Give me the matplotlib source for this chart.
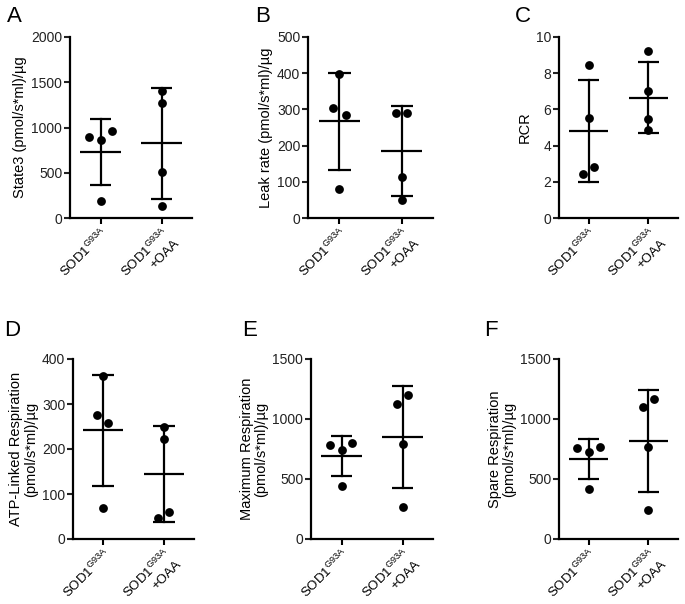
import numpy as np
import matplotlib
matplotlib.use('Agg')
import matplotlib.pyplot as plt

# plotstyle
plt.rcParams['font.family'] = ['Liberation Sans', 'DejaVu Sans']
plt.rcParams['mathtext.fontset'] = 'custom'
plt.rcParams['mathtext.rm'] = 'Liberation Sans'
FS = 10

# data
groups = [r'SOD1$^{\mathregular{G93A}}$', 'SOD1$^{\\mathregular{G93A}}$\n+OAA']

state3_sod = [899, 862, 965, 191]
state3_oaa = [1405, 1266, 503, 128]
leak_sod = [399, 305, 284, 80]
leak_oaa = [291, 291, 112, 50]
rcr_sod = [8.48, 5.5, 2.84, 2.42]
rcr_oaa = [9.23, 7.03, 5.47, 4.86]
atp_sod = [363, 275, 258, 69]
atp_oaa = [250, 223, 59, 46]
maxr_sod = [786, 800, 744, 444]
maxr_oaa = [1203, 1128, 794, 267]
spare_sod = [761, 767, 722, 417]
spare_oaa = [1169, 1103, 767, 239]

# horizontal scatter of the dots (column-scatter style)
jit_sod_A = [-0.19, 0.0, 0.19, 0.0]
jit_oaa_A = [0.0, 0.0, 0.0, 0.0]
jit_sod_B = [0.0, -0.1, 0.1, 0.0]
jit_oaa_B = [-0.09, 0.09, 0.0, 0.0]
jit_sod_C = [0.0, 0.0, 0.09, -0.1]
jit_oaa_C = [0.0, 0.0, 0.0, 0.0]
jit_sod_D = [0.0, -0.1, 0.08, 0.0]
jit_oaa_D = [0.0, 0.0, 0.09, -0.09]
jit_sod_E = [-0.19, 0.18, 0.0, 0.0]
jit_oaa_E = [0.09, -0.09, 0.0, 0.0]
jit_sod_F = [-0.19, 0.19, 0.0, 0.0]
jit_oaa_F = [0.09, -0.09, 0.0, 0.0]

panels = [
    ('A', state3_sod, state3_oaa, jit_sod_A, jit_oaa_A, 'State3 (pmol/s*ml)/µg', 2000, 500,
     [70, 37, 122, 181], (7, 6)),
    ('B', leak_sod, leak_oaa, jit_sod_B, jit_oaa_B, 'Leak rate (pmol/s*ml)/µg', 500, 100,
     [308, 37, 125, 181], (255, 6)),
    ('C', rcr_sod, rcr_oaa, jit_sod_C, jit_oaa_C, 'RCR', 10, 2,
     [559, 37, 119, 181], (515, 6)),
    ('D', atp_sod, atp_oaa, jit_sod_D, jit_oaa_D, 'ATP-Linked Respiration\n(pmol/s*ml)/µg', 400, 100,
     [73, 359, 121, 180], (4, 320)),
    ('E', maxr_sod, maxr_oaa, jit_sod_E, jit_oaa_E, 'Maximum Respiration\n(pmol/s*ml)/µg', 1500, 500,
     [311, 359, 122, 180], (242, 320)),
    ('F', spare_sod, spare_oaa, jit_sod_F, jit_oaa_F, 'Spare Respiration\n(pmol/s*ml)/µg', 1500, 500,
     [559, 359, 119, 180], (484, 320)),
]

W, H = 685, 604
fig = plt.figure(figsize=(W/100, H/100), dpi=100)

for letter, ysod, yoaa, jsod, joaa, ylab, ymax, ystep, box, lpos in panels:
    l, t, w, h = box
    ax = fig.add_axes([l/W, (H-t-h)/H, w/W, h/H])
    for i0, (yv, jv) in enumerate([(ysod, jsod), (yoaa, joaa)]):
        yv = np.array(yv, dtype=float)
        m = yv.mean(); sd = yv.std(ddof=1)
        ax.scatter(i0+np.array(jv), yv, s=40, color='black', zorder=3, linewidths=0, clip_on=False)
        ax.plot([i0, i0], [m-sd, m+sd], color='black', lw=1.6)
        ax.hlines([m-sd, m+sd], i0-0.18, i0+0.18, color='black', lw=1.6)
        ax.hlines(m, i0-0.33, i0+0.33, color='black', lw=1.6)
    ax.set_xlim(-0.5, 1.5)
    ax.set_ylim(0, ymax)
    ax.set_yticks(np.arange(0, ymax+ystep/2, ystep))
    ax.set_xticks([0, 1])
    ax.set_xticklabels(groups, rotation=45, ha='right', rotation_mode='anchor', fontsize=9.5)
    ax.tick_params(axis='y', labelsize=FS, width=1.5, length=4, colors='#222222', pad=1.5)
    ax.tick_params(axis='x', width=1.5, length=4, pad=1.5)
    for s in ['top', 'right']:
        ax.spines[s].set_visible(False)
    for s in ['left', 'bottom']:
        ax.spines[s].set_linewidth(1.6)
    ax.set_ylabel(ylab, fontsize=10.5, linespacing=1.05, labelpad=3)
    fig.text(lpos[0]/W, 1-lpos[1]/H, letter, fontsize=16, va='top', ha='left')

fig.savefig('out.png', dpi=100)
